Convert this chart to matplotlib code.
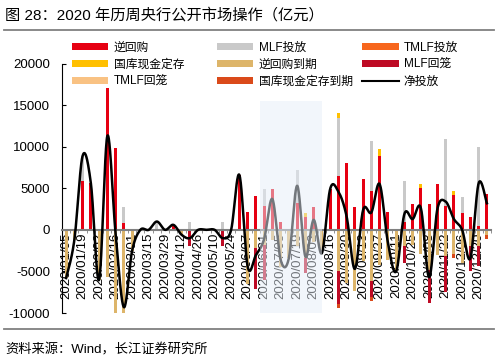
import numpy as np
import matplotlib
matplotlib.use("Agg")
import matplotlib.pyplot as plt
import matplotlib.patches as patches
from matplotlib.lines import Line2D

plt.rcParams["font.family"] = ["Liberation Sans", "Noto Sans CJK SC"]
plt.rcParams["axes.unicode_minus"] = False

# x tick labels (every other week)
tick_labels = ["2020/01/05", "2020/01/19", "2020/02/02", "2020/02/16", "2020/03/01",
               "2020/03/15", "2020/03/29", "2020/04/12", "2020/04/26", "2020/05/10",
               "2020/05/24", "2020/06/07", "2020/06/21", "2020/07/05", "2020/07/19",
               "2020/08/02", "2020/08/16", "2020/08/30", "2020/09/13", "2020/09/27",
               "2020/10/11", "2020/10/25", "2020/11/08", "2020/11/22", "2020/12/06",
               "2020/12/20"]

# weekly operations, 亿元 (52 weeks)
rev_repo = [0, 0, 5900, 5600, 0, 17000, 9900, 800, 0, 0,
            0, 0, 0, 600, 0, 0, 0, 0, 0, 0,
            0, 6600, 2100, 4050, 2900, 4900, 900, 0, 3200, 1500,
            2700, 0, 4900, 6500, 8000, 2700, 6100, 4700, 8900, 2100,
            0, 900, 3100, 5000, 3100, 5500, 2900, 4200, 2000, 1500,
            500, 4300]
mlf_in = [0, 0, 3000, 0, 0, 0, 0, 2000, 0, 0,
          0, 1000, 0, 0, 0, 1000, 0, 0, 0, 1000,
          0, 0, 0, 0, 2000, 0, 0, 0, 4000, 0,
          0, 0, 0, 7000, 0, 0, 0, 6000, 0, 0,
          0, 5000, 0, 0, 0, 0, 8000, 0, 2000, 0,
          9500, 0]
tmlf_in = [0] * 52
deposit_in = [0] * 29 + [500, 0, 0, 0, 500, 0, 0, 0, 0, 800, 0,
                         0, 0, 0, 500, 0, 0, 0, 500, 0, 0, 0, 0]
rev_repo_due = [5800, 1200, 0, 0, 6000, 5700, 10400, 12100, 2500, 0,
                0, 0, 0, 0, 600, 0, 0, 0, 0, 0,
                0, 0, 6500, 2200, 1800, 1200, 4500, 3400, 1900, 3400,
                1500, 2800, 0, 5000, 6400, 7400, 3700, 6200, 4200, 3600,
                5000, 2000, 1800, 2900, 4800, 3000, 3200, 2900, 4000, 2000,
                2000, 600]
mlf_due = [0] * 15 + [2000, 0, 0, 0, 2000, 0, 0, 0, 4900, 4200, 0,
                      0, 0, 0, 1800, 0, 0, 0, 3900, 0, 0,
                      0, 1900, 0, 0, 0, 2000, 0, 0, 4000, 0,
                      4300, 0, 0, 2900, 2400, 0]
tmlf_due = [0] * 52
deposit_due = [0] * 33 + [500, 0, 0, 0, 500, 0, 0, 0, 0,
                          0, 0, 0, 0, 0, 500, 0, 0, 0, 500]

pos_series = [("逆回购", rev_repo, "#E60012"),
              ("MLF投放", mlf_in, "#C9C9C9"),
              ("TMLF投放", tmlf_in, "#F7661D"),
              ("国库现金定存", deposit_in, "#FFC000")]
neg_series = [("逆回购到期", rev_repo_due, "#DDB56A"),
              ("MLF回笼", mlf_due, "#BE0A24"),
              ("TMLF回笼", tmlf_due, "#F9C283"),
              ("国库现金定存到期", deposit_due, "#DA4A1A")]


def smooth(xs, ys, n=24):
    # Catmull-Rom style bezier, like a spreadsheet "smoothed line"
    xs = np.asarray(xs, float)
    ys = np.asarray(ys, float)
    out_x, out_y = [], []
    t = np.linspace(0, 1, n, endpoint=False)
    m = len(xs)
    for i in range(m - 1):
        i0 = max(i - 1, 0)
        i3 = min(i + 2, m - 1)
        p0x, p1x = xs[i], xs[i + 1]
        p0y, p1y = ys[i], ys[i + 1]
        c1x = p0x + (xs[i + 1] - xs[i0]) / 6
        c1y = p0y + (ys[i + 1] - ys[i0]) / 6
        c2x = p1x - (xs[i3] - xs[i]) / 6
        c2y = p1y - (ys[i3] - ys[i]) / 6
        a = (1 - t) ** 3
        b = 3 * (1 - t) ** 2 * t
        c = 3 * (1 - t) * t ** 2
        d = t ** 3
        out_x.extend(a * p0x + b * c1x + c * c2x + d * p1x)
        out_y.extend(a * p0y + b * c1y + c * c2y + d * p1y)
    out_x.append(xs[-1])
    out_y.append(ys[-1])
    return np.array(out_x), np.array(out_y)


fig = plt.figure(figsize=(5.02, 3.64), dpi=100)
ax = fig.add_axes([0.1235, 0.1401, 0.8546, 0.6854])

n = len(rev_repo)
x = np.arange(n)
w = 0.36

handles = {}
base = np.zeros(n)
for name, vals, col in pos_series:
    v = np.array(vals, float)
    ax.bar(x, v, w, bottom=base, color=col, zorder=2)
    base += v
    handles[name] = patches.Patch(facecolor=col)
net = base.copy()

base = np.zeros(n)
for name, vals, col in neg_series:
    v = np.array(vals, float)
    ax.bar(x, -v, w, bottom=base, color=col, zorder=2)
    base -= v
    handles[name] = patches.Patch(facecolor=col)
net = net + base

sx, sy = smooth(x, net)
ax.plot(sx, sy, color="black", lw=1.8, zorder=3)
handles["净投放"] = Line2D([], [], color="black", lw=1.5)

ax.set_xlim(-0.5, n - 0.5)
ax.set_ylim(-10000, 20000)
ax.set_yticks(range(-10000, 20001, 5000))
for s in ["top", "right"]:
    ax.spines[s].set_visible(False)
ax.spines["left"].set_linewidth(0.8)
ax.spines["bottom"].set_position(("data", 0))
ax.spines["bottom"].set_color("#808080")
ax.spines["bottom"].set_linewidth(1.5)
ax.spines["bottom"].set_zorder(2.5)
ax.tick_params(axis="y", direction="in", length=3, width=0.8, pad=8.6, labelsize=9.5)
ax.set_xticks(range(0, n, 2))
ax.set_xticklabels(tick_labels, rotation=90)
ax.tick_params(axis="x", length=0, pad=2, labelsize=9.5)
ax.set_xticks(np.arange(-0.5, n, 1), minor=True)
ax.tick_params(axis="x", which="minor", length=2.5, color="#808080")

# highlighted period
ax.add_patch(patches.Rectangle((23.5, -10000), 7.5, 25500, facecolor="#E6EEF8",
                               alpha=0.5, edgecolor="none", zorder=5))

# legend, three fixed columns
cols = [["逆回购", "国库现金定存", "TMLF回笼"],
        ["MLF投放", "逆回购到期", "国库现金定存到期"],
        ["TMLF投放", "MLF回笼", "净投放"]]
for xpos, names in zip([0.143, 0.432, 0.721], cols):
    fig.legend([handles[k] for k in names], names, loc="upper left",
               bbox_to_anchor=(xpos, 0.885), frameon=False, fontsize=8.5,
               handlelength=3.1, handleheight=0.5, handletextpad=0.45,
               labelspacing=0.42, borderpad=0, borderaxespad=0)

fig.text(0.01, 0.958, "图 28：2020 年历周央行公开市场操作（亿元）", fontsize=11, va="center")
fig.add_artist(Line2D([0.008, 0.984], [0.918, 0.918], color="#808080", lw=1.3))
fig.add_artist(Line2D([0.008, 0.984], [0.096, 0.096], color="#808080", lw=1.3))
fig.text(0.01, 0.0385, "资料来源：Wind，长江证券研究所", fontsize=9.5, va="center")

fig.savefig("out.png", dpi=100)
